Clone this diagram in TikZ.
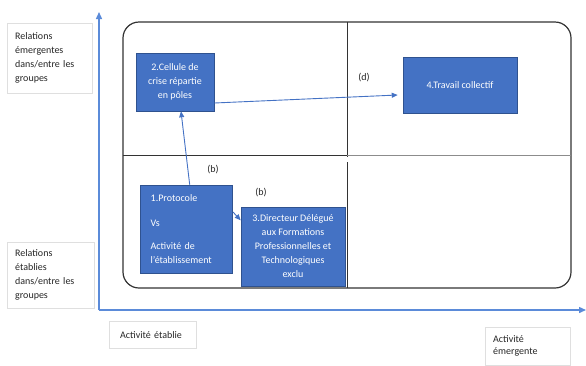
\documentclass[tikz,border=0pt]{standalone}
\usepackage{fontspec}
\setmainfont{Carlito}
\usetikzlibrary{arrows.meta}
\definecolor{boxblue}{HTML}{4472C4}
\definecolor{boxedge}{HTML}{2F528F}
\definecolor{axisblue}{HTML}{5B8BD9}
\definecolor{txt}{HTML}{262626}

\begin{document}
\begin{tikzpicture}[x=1pt,y=-1pt,
  every node/.style={font=\fontsize{10}{14}\selectfont},
  bloc/.style={draw=boxedge,fill=boxblue,text=white,line width=0.6pt,align=center,inner sep=0pt},
  etiq/.style={draw=gray!25,fill=white,text=txt,align=left,anchor=north west,inner xsep=8pt,inner ysep=0pt},
  lien/.style={draw=boxblue,line width=0.9pt,-{Triangle[length=6pt,width=5pt]}},
  axe/.style={draw=axisblue,line width=1.4pt,-{Triangle[length=7pt,width=6pt]}}]
\useasboundingbox (0,0) rectangle (586,365);
\coordinate (O) at (99,310);
\coordinate (ytop) at (99,12);
\coordinate (xend) at (586,310);
\draw[axe] (O) -- (ytop);
\draw[axe] (O) -- (xend);
\draw[line width=1.2pt,rounded corners=16pt,black!80] (123,22) rectangle (571,288);
\draw[line width=1pt,black!80] (347,22) -- (347,157);
\draw[line width=1pt,black!80] (347,162) -- (347,288);
\draw[line width=1pt,black!80] (123,155.5) -- (347,155.5);
\draw[line width=1pt,black!45] (347,155.5) -- (571,155.5);

\node[etiq,text width=69pt,minimum height=70pt] (emer) at (7,23) {Relations\\émergentes\\dans/entre les\\groupes};
\node[etiq,text width=71pt,minimum height=66pt] (etab) at (7,242) {Relations\\établies\\dans/entre les\\groupes};
\node[etiq,text width=65pt,minimum height=27pt,inner xsep=11pt] (actE) at (109,321) {Activité établie};
\node[etiq,text width=69pt,minimum height=38pt,font=\fontsize{10}{12}\selectfont] (actM) at (485,327) {Activité\\émergente};

\node[bloc,minimum width=78pt,minimum height=58pt] (cellule) at (175,82) {2.Cellule de\\crise répartie\\en pôles};
\node[bloc,minimum width=114pt,minimum height=56pt] (travail) at (460,85) {4.Travail collectif};
\node[bloc,minimum width=92pt,minimum height=88pt,text width=72pt,align=left] (protocole) at (186.7,229) {1.Protocole\\[11pt]Vs\\[9pt]Activité de\\l'établissement};
\node[bloc,minimum width=104pt,minimum height=79pt] (directeur) at (293,246.3) {3.Directeur Délégué\\aux Formations\\Professionnelles et\\Technologiques\\exclu};

\draw[lien] ([xshift=3pt]protocole.north) -- ([xshift=6pt]cellule.south);
\draw[lien] ([yshift=-21pt]cellule.east) -- ([xshift=-5pt,yshift=-10pt]travail.west);
\draw[lien] ([yshift=17pt]protocole.east) -- ([yshift=26pt]directeur.west);

\node[text=txt] (b1) at (213,170) {(b)};
\node[text=txt] (b2) at (261,193) {(b)};
\node[text=txt] (d) at (364,78) {(d)};
\end{tikzpicture}
\end{document}
